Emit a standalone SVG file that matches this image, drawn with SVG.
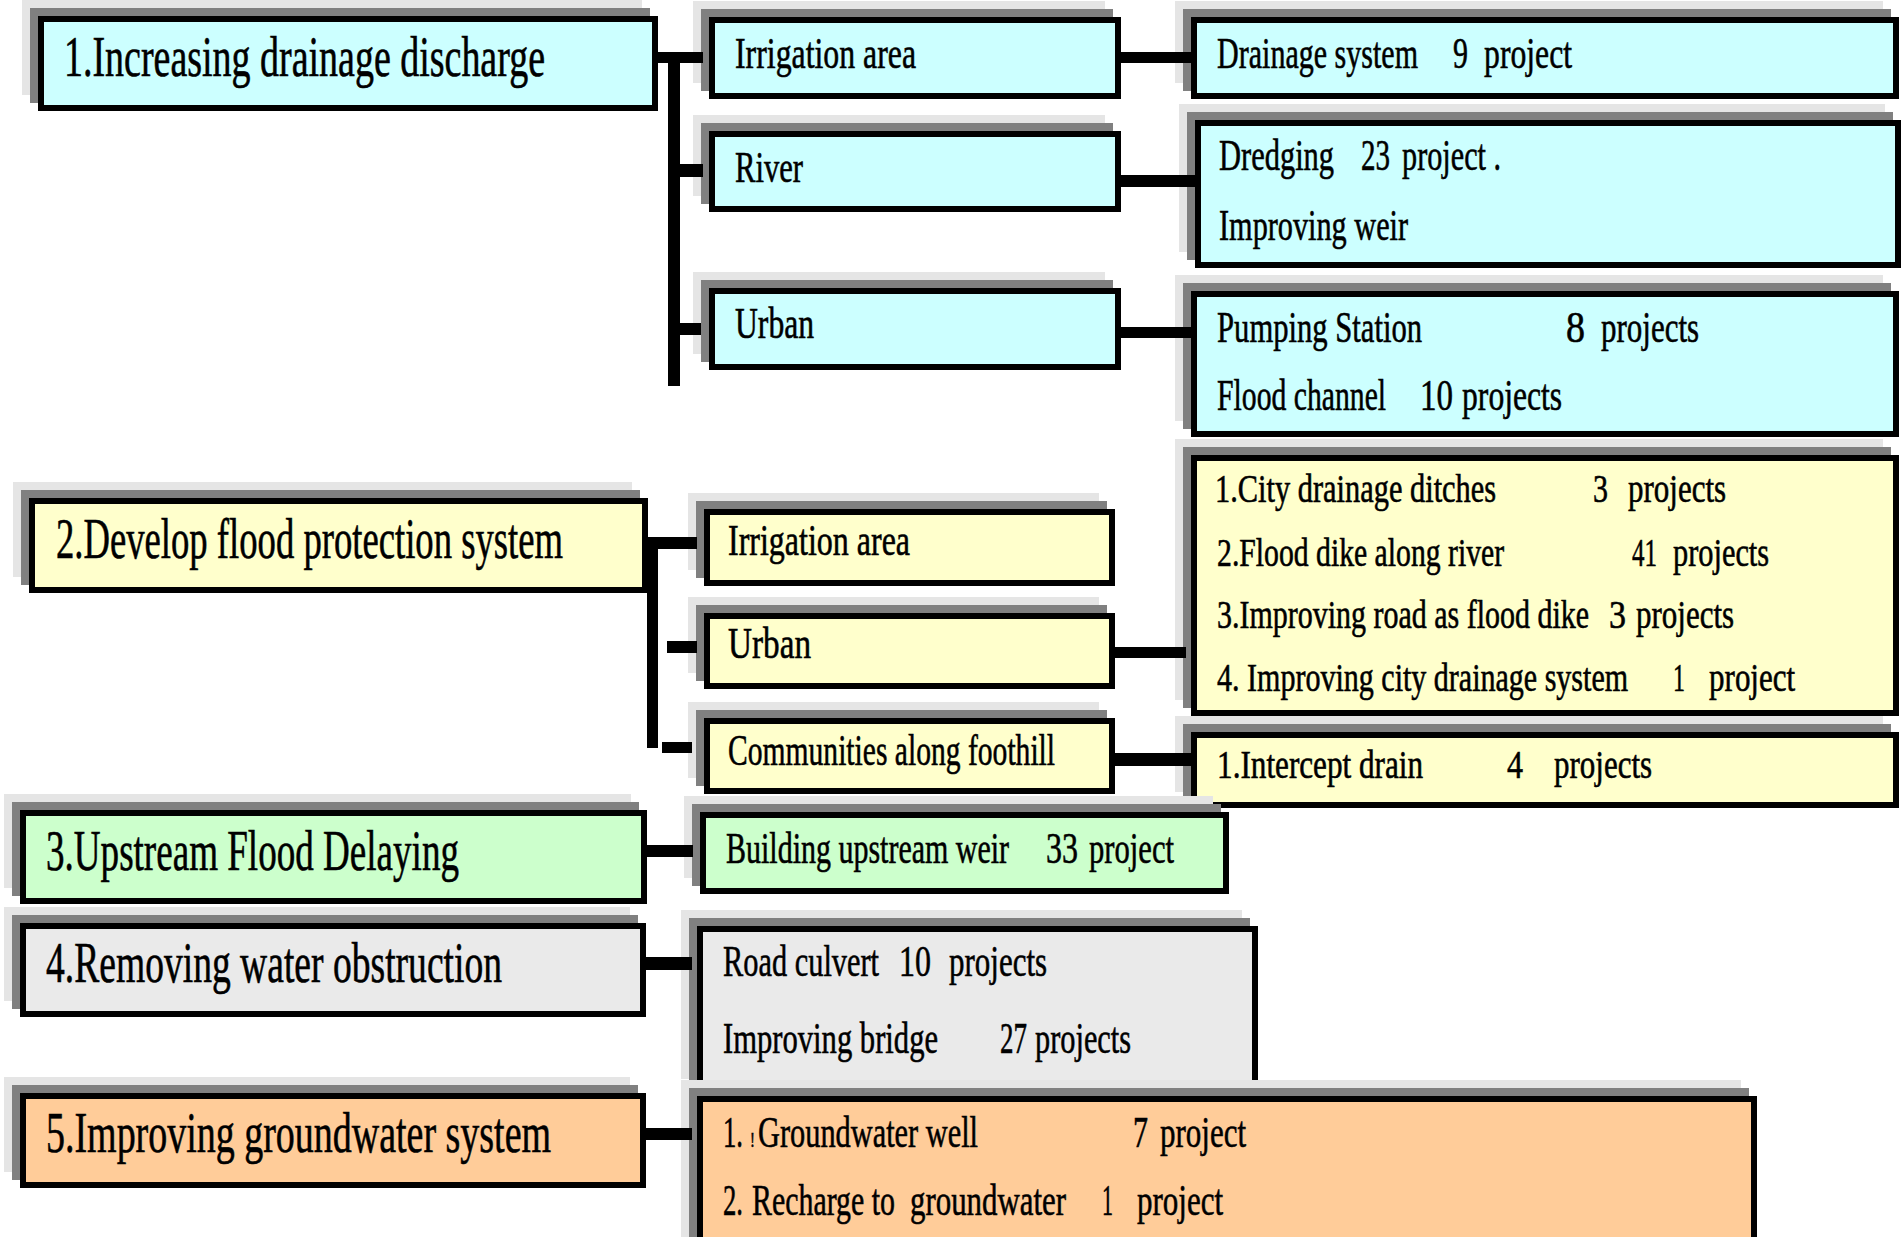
<svg xmlns="http://www.w3.org/2000/svg" width="1904" height="1237" viewBox="0 0 1904 1237">
<style>
.l{fill:#e5e5e5}
.d{fill:#808080}
.m{stroke:#000;stroke-width:6}
.cy{fill:#ccffff}
.ye{fill:#ffffcc}
.gr{fill:#ccffcc}
.gy{fill:#eaeaea}
.or{fill:#ffcc99}
text{font-family:"Liberation Serif","Times New Roman",serif;fill:#000;stroke:#000;stroke-width:0.6px}
.t1{font-size:57px}
.t2{font-size:45px}
.t3{font-size:41px}
.c{fill:#000}
</style>
<rect width="1904" height="1237" fill="#fff"/>
<g id="n1">
<rect class="l" x="22" y="0" width="620" height="95"/><rect class="d" x="30" y="8" width="620" height="95"/><rect class="m cy" x="41" y="19" width="614" height="89"/>
<g transform="scale(0.6667,1)"><text class="t1" x="96" y="76" textLength="721.5" lengthAdjust="spacingAndGlyphs">1.Increasing drainage discharge</text></g>
</g>
<g id="n1a">
<rect class="l" x="693" y="1" width="412" height="82"/><rect class="d" x="701" y="9" width="412" height="82"/><rect class="m cy" x="712" y="20" width="406" height="76"/>
<g transform="scale(0.6667,1)"><text class="t2" x="1102.5" y="68" textLength="271.5" lengthAdjust="spacingAndGlyphs">Irrigation area</text></g>
</g>
<g id="n1b">
<rect class="l" x="693" y="115" width="412" height="81"/><rect class="d" x="701" y="123" width="412" height="81"/><rect class="m cy" x="712" y="134" width="406" height="75"/>
<g transform="scale(0.6667,1)"><text class="t2" x="1102.5" y="182" textLength="102" lengthAdjust="spacingAndGlyphs">River</text></g>
</g>
<g id="n1c">
<rect class="l" x="693" y="272" width="412" height="82"/><rect class="d" x="701" y="280" width="412" height="82"/><rect class="m cy" x="712" y="291" width="406" height="76"/>
<g transform="scale(0.6667,1)"><text class="t2" x="1102.5" y="338" textLength="118.5" lengthAdjust="spacingAndGlyphs">Urban</text></g>
</g>
<g id="n1a2">
<rect class="l" x="1175" y="1" width="708" height="82"/><rect class="d" x="1183" y="9" width="708" height="82"/><rect class="m cy" x="1194" y="20" width="702" height="76"/>
<g transform="scale(0.6667,1)"><text class="t2" y="68"><tspan x="1825.5" textLength="301.5" lengthAdjust="spacingAndGlyphs">Drainage system</tspan><tspan x="2179.5" textLength="22.5" lengthAdjust="spacingAndGlyphs">9</tspan><tspan x="2226" textLength="132" lengthAdjust="spacingAndGlyphs">project</tspan></text></g>
</g>
<g id="n1b2">
<rect class="l" x="1179" y="104" width="706" height="148"/><rect class="d" x="1187" y="112" width="706" height="148"/><rect class="m cy" x="1198" y="123" width="700" height="142"/>
<g transform="scale(0.6667,1)"><text class="t2" y="170"><tspan x="1828.5" textLength="172.5" lengthAdjust="spacingAndGlyphs">Dredging</tspan><tspan x="2041.5" textLength="43.5" lengthAdjust="spacingAndGlyphs">23</tspan><tspan x="2103" textLength="148.5" lengthAdjust="spacingAndGlyphs">project .</tspan></text>
<text class="t2" x="1828.5" y="240" textLength="283.5" lengthAdjust="spacingAndGlyphs">Improving weir</text></g>
</g>
<g id="n1c2">
<rect class="l" x="1175" y="275" width="708" height="146"/><rect class="d" x="1183" y="283" width="708" height="146"/><rect class="m cy" x="1194" y="294" width="702" height="140"/>
<g transform="scale(0.6667,1)"><text class="t2" y="342"><tspan x="1825.5" textLength="307.5" lengthAdjust="spacingAndGlyphs">Pumping Station</tspan><tspan x="2349" textLength="28.5" lengthAdjust="spacingAndGlyphs">8</tspan><tspan x="2401.5" textLength="147" lengthAdjust="spacingAndGlyphs">projects</tspan></text>
<text class="t2" y="410"><tspan x="1825.5" textLength="253.5" lengthAdjust="spacingAndGlyphs">Flood channel</tspan><tspan x="2130" textLength="49.5" lengthAdjust="spacingAndGlyphs">10</tspan><tspan x="2193" textLength="150" lengthAdjust="spacingAndGlyphs">projects</tspan></text></g>
</g>
<g id="n2">
<rect class="l" x="13" y="482" width="619" height="95"/><rect class="d" x="21" y="490" width="619" height="95"/><rect class="m ye" x="32" y="501" width="613" height="89"/>
<g transform="scale(0.6667,1)"><text class="t1" x="84" y="558" textLength="760.5" lengthAdjust="spacingAndGlyphs">2.Develop flood protection system</text></g>
</g>
<g id="n2a">
<rect class="l" x="688" y="493" width="411" height="77"/><rect class="d" x="696" y="501" width="411" height="77"/><rect class="m ye" x="707" y="512" width="405" height="71"/>
<g transform="scale(0.6667,1)"><text class="t2" x="1092" y="555" textLength="273" lengthAdjust="spacingAndGlyphs">Irrigation area</text></g>
</g>
<g id="n2b">
<rect class="l" x="688" y="597" width="411" height="76"/><rect class="d" x="696" y="605" width="411" height="76"/><rect class="m ye" x="707" y="616" width="405" height="70"/>
<g transform="scale(0.6667,1)"><text class="t2" x="1092" y="658" textLength="124.5" lengthAdjust="spacingAndGlyphs">Urban</text></g>
</g>
<g id="n2c">
<rect class="l" x="688" y="702" width="411" height="76"/><rect class="d" x="696" y="710" width="411" height="76"/><rect class="m ye" x="707" y="721" width="405" height="70"/>
<g transform="scale(0.6667,1)"><text class="t2" x="1092" y="765" textLength="490.5" lengthAdjust="spacingAndGlyphs">Communities along foothill</text></g>
</g>
<g id="n2b2">
<rect class="l" x="1175" y="439" width="708" height="261"/><rect class="d" x="1183" y="447" width="708" height="261"/><rect class="m ye" x="1194" y="458" width="702" height="255"/>
<g transform="scale(0.6667,1)">
<text class="t3" y="502"><tspan x="1822.5" textLength="421.5" lengthAdjust="spacingAndGlyphs">1.City drainage ditches</tspan><tspan x="2389.5" textLength="22.5" lengthAdjust="spacingAndGlyphs">3</tspan><tspan x="2442" textLength="147" lengthAdjust="spacingAndGlyphs">projects</tspan></text>
<text class="t3" y="566"><tspan x="1825.5" textLength="430.5" lengthAdjust="spacingAndGlyphs">2.Flood dike along river</tspan><tspan x="2448" textLength="37.5" lengthAdjust="spacingAndGlyphs">41</tspan><tspan x="2509.5" textLength="144" lengthAdjust="spacingAndGlyphs">projects</tspan></text>
<text class="t3" y="628"><tspan x="1825.5" textLength="558" lengthAdjust="spacingAndGlyphs">3.Improving road as flood dike</tspan><tspan x="2413.5" textLength="25.5" lengthAdjust="spacingAndGlyphs">3</tspan><tspan x="2454" textLength="147" lengthAdjust="spacingAndGlyphs">projects</tspan></text>
<text class="t3" y="691"><tspan x="1825.5" textLength="616.5" lengthAdjust="spacingAndGlyphs">4. Improving city drainage system</tspan><tspan x="2509.5" textLength="18" lengthAdjust="spacingAndGlyphs">1</tspan><tspan x="2563.5" textLength="129" lengthAdjust="spacingAndGlyphs">project</tspan></text>
</g>
</g>
<g id="n2c2">
<rect class="l" x="1175" y="716" width="708" height="76"/><rect class="d" x="1183" y="724" width="708" height="76"/><rect class="m ye" x="1194" y="735" width="702" height="70"/>
<g transform="scale(0.6667,1)"><text class="t3" y="778"><tspan x="1825.5" textLength="309" lengthAdjust="spacingAndGlyphs">1.Intercept drain</tspan><tspan x="2260.5" textLength="24" lengthAdjust="spacingAndGlyphs">4</tspan><tspan x="2331" textLength="147" lengthAdjust="spacingAndGlyphs">projects</tspan></text></g>
</g>
<g id="n3">
<rect class="l" x="4" y="794" width="627" height="94"/><rect class="d" x="12" y="802" width="627" height="94"/><rect class="m gr" x="23" y="813" width="621" height="88"/>
<g transform="scale(0.6667,1)"><text class="t1" x="69" y="870" textLength="619.5" lengthAdjust="spacingAndGlyphs">3.Upstream Flood Delaying</text></g>
</g>
<g id="n3a">
<rect class="l" x="684" y="796" width="529" height="82"/><rect class="d" x="692" y="804" width="529" height="82"/><rect class="m gr" x="703" y="815" width="523" height="76"/>
<g transform="scale(0.6667,1)"><text class="t2" y="863"><tspan x="1089" textLength="424.5" lengthAdjust="spacingAndGlyphs">Building upstream weir</tspan><tspan x="1569" textLength="48" lengthAdjust="spacingAndGlyphs">33</tspan><tspan x="1633.5" textLength="127.5" lengthAdjust="spacingAndGlyphs">project</tspan></text></g>
</g>
<g id="n4">
<rect class="l" x="4" y="907" width="626" height="94"/><rect class="d" x="12" y="915" width="626" height="94"/><rect class="m gy" x="23" y="926" width="620" height="88"/>
<g transform="scale(0.6667,1)"><text class="t1" x="69" y="982" textLength="684" lengthAdjust="spacingAndGlyphs">4.Removing water obstruction</text></g>
</g>
<g id="n4a">
<rect class="l" x="681" y="910" width="561" height="169"/><rect class="d" x="689" y="918" width="561" height="169"/><rect class="m gy" x="700" y="929" width="555" height="163"/>
<g transform="scale(0.6667,1)">
<text class="t2" y="976"><tspan x="1084.5" textLength="234" lengthAdjust="spacingAndGlyphs">Road culvert</tspan><tspan x="1348.5" textLength="48" lengthAdjust="spacingAndGlyphs">10</tspan><tspan x="1423.5" textLength="147" lengthAdjust="spacingAndGlyphs">projects</tspan></text>
<text class="t2" y="1053"><tspan x="1084.5" textLength="322.5" lengthAdjust="spacingAndGlyphs">Improving bridge</tspan><tspan x="1500" textLength="40.5" lengthAdjust="spacingAndGlyphs">27</tspan><tspan x="1552.5" textLength="144" lengthAdjust="spacingAndGlyphs">projects</tspan></text>
</g>
</g>
<g id="n5">
<rect class="l" x="4" y="1077" width="626" height="95"/><rect class="d" x="12" y="1085" width="626" height="95"/><rect class="m or" x="23" y="1096" width="620" height="89"/>
<g transform="scale(0.6667,1)"><text class="t1" x="69" y="1152" textLength="757.5" lengthAdjust="spacingAndGlyphs">5.Improving groundwater system</text></g>
</g>
<g id="n5a">
<rect class="l" x="681" y="1080" width="1060" height="164"/><rect class="d" x="689" y="1088" width="1060" height="164"/><rect class="m or" x="700" y="1099" width="1054" height="158"/>
<g transform="scale(0.6667,1)">
<text class="t2" y="1147"><tspan x="1084.5" textLength="30" lengthAdjust="spacingAndGlyphs">1.</tspan><tspan x="1125" font-size="22">!</tspan><tspan x="1137" textLength="330" lengthAdjust="spacingAndGlyphs">Groundwater well</tspan><tspan x="1699.5" textLength="22.5" lengthAdjust="spacingAndGlyphs">7</tspan><tspan x="1740" textLength="129" lengthAdjust="spacingAndGlyphs">project</tspan></text>
<text class="t2" y="1215"><tspan x="1084.5" textLength="30" lengthAdjust="spacingAndGlyphs">2.</tspan><tspan x="1128" textLength="214.5" lengthAdjust="spacingAndGlyphs">Recharge to</tspan><tspan x="1365" textLength="234" lengthAdjust="spacingAndGlyphs">groundwater</tspan><tspan x="1653" textLength="16.5" lengthAdjust="spacingAndGlyphs">1</tspan><tspan x="1705.5" textLength="129" lengthAdjust="spacingAndGlyphs">project</tspan></text>
</g>
</g>
<g id="connectors">
<rect class="c" x="658" y="52" width="45" height="11"/>
<rect class="c" x="668" y="52" width="12" height="334"/>
<rect class="c" x="680" y="164" width="23" height="13"/>
<rect class="c" x="680" y="323" width="21" height="12"/>
<rect class="c" x="1121" y="52" width="70" height="11"/>
<rect class="c" x="1121" y="175" width="74" height="12"/>
<rect class="c" x="1121" y="327" width="70" height="11"/>
<rect class="c" x="648" y="537" width="49" height="12"/>
<rect class="c" x="647" y="537" width="11" height="211"/>
<rect class="c" x="667" y="641" width="30" height="12"/>
<rect class="c" x="662" y="742" width="30" height="11"/>
<rect class="c" x="1115" y="647" width="71" height="11"/>
<rect class="c" x="1115" y="753" width="76" height="13"/>
<rect class="c" x="647" y="845" width="46" height="12"/>
<rect class="c" x="646" y="957" width="46" height="13"/>
<rect class="c" x="646" y="1128" width="46" height="12"/>
</g>
</svg>
